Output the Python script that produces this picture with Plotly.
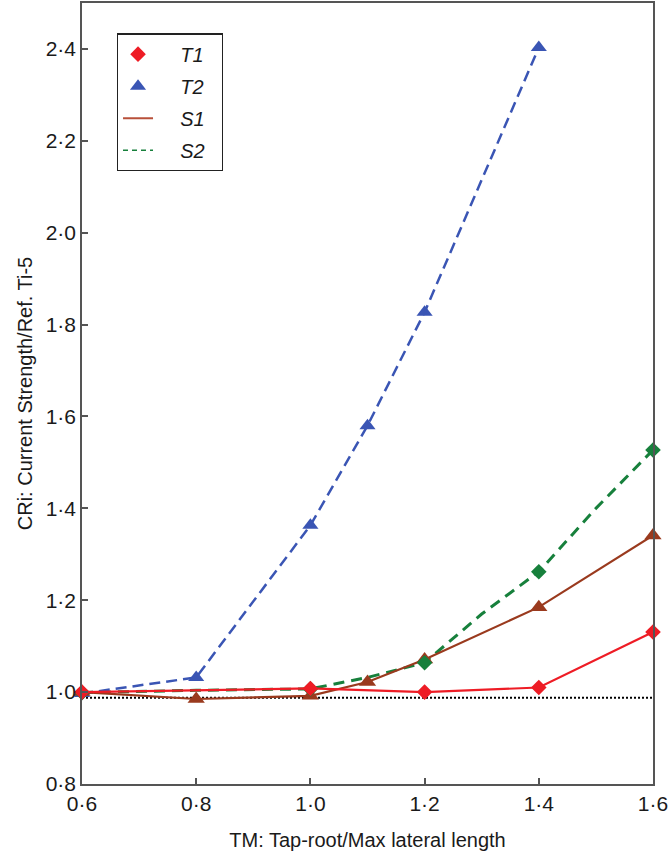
import plotly.graph_objects as go

# ---- data ----
red_x = [0.6, 1.0, 1.2, 1.4, 1.6]
red_y = [1.0, 1.008, 1.0, 1.01, 1.131]

blue_x = [0.6, 0.8, 1.0, 1.1, 1.2, 1.4]
blue_y = [0.997, 1.032, 1.363, 1.58, 1.827, 2.403]

brown_x = [0.6, 0.8, 1.0, 1.1, 1.2, 1.4, 1.6]
brown_y = [1.0, 0.985, 0.992, 1.022, 1.071, 1.185, 1.341]

green_x = [0.6, 0.8, 1.0, 1.1, 1.2, 1.3, 1.4, 1.5, 1.6]
green_y = [0.999, 1.004, 1.007, 1.032, 1.064, 1.17, 1.262, 1.40, 1.527]
green_marked = [True, False, True, False, True, False, True, False, True]

baseline_y = 0.988

x_ticks = [0.6, 0.8, 1.0, 1.2, 1.4, 1.6]
x_ticklabels = ["0·6", "0·8", "1·0", "1·2", "1·4", "1·6"]
y_ticks = [0.8, 1.0, 1.2, 1.4, 1.6, 1.8, 2.0, 2.2, 2.4]
y_ticklabels = ["0·8", "1·0", "1·2", "1·4", "1·6", "1·8", "2·0", "2·2", "2·4"]

legend_names = ["T1", "T2", "S1", "S2"]

RED = "#ee1c25"
BLUE = "#3a55b4"
BROWN = "#9a3a1e"
GREEN = "#17803c"
FONT = "Liberation Sans, Arial, sans-serif"

fig = go.Figure()

# dotted reference line
fig.add_trace(go.Scatter(
    x=[x_ticks[0], x_ticks[-1]], y=[baseline_y, baseline_y], mode="lines",
    line=dict(color="black", width=2, dash="2px,2px"), showlegend=False,
    hoverinfo="skip"))

# green dashed line
fig.add_trace(go.Scatter(
    x=green_x, y=green_y, mode="lines",
    line=dict(color=GREEN, width=3, dash="11px,7px"),
    showlegend=False, cliponaxis=False))

# blue dashed with triangles
fig.add_trace(go.Scatter(
    x=blue_x, y=blue_y, mode="lines+markers",
    line=dict(color=BLUE, width=2.5, dash="11px,6px"),
    marker=dict(symbol="triangle-up", color=BLUE, size=14),
    showlegend=False, cliponaxis=False))

# brown solid with triangles
fig.add_trace(go.Scatter(
    x=brown_x, y=brown_y, mode="lines+markers",
    line=dict(color=BROWN, width=2.2),
    marker=dict(symbol="triangle-up", color=BROWN, size=15),
    showlegend=False, cliponaxis=False))

# green diamonds
fig.add_trace(go.Scatter(
    x=[x for x, m in zip(green_x, green_marked) if m],
    y=[y for y, m in zip(green_y, green_marked) if m],
    mode="markers",
    marker=dict(symbol="diamond", color=GREEN, size=12),
    showlegend=False, cliponaxis=False))

# red solid with diamonds
fig.add_trace(go.Scatter(
    x=red_x, y=red_y, mode="lines+markers",
    line=dict(color=RED, width=2.2),
    marker=dict(symbol="diamond", color=RED, size=12),
    showlegend=False, cliponaxis=False))

# legend-only entries
pad = "\u00a0\u00a0\u00a0\u00a0"
tail = "\u00a0\u00a0"
fig.add_trace(go.Scatter(x=[None], y=[None], mode="markers", name=pad + legend_names[0] + tail,
                         marker=dict(symbol="diamond", color=RED, size=12), legendgroup="a"))
fig.add_trace(go.Scatter(x=[None], y=[None], mode="markers", name=pad + legend_names[1] + tail,
                         marker=dict(symbol="triangle-up", color=BLUE, size=14), legendgroup="b"))
fig.add_trace(go.Scatter(x=[None], y=[None], mode="lines", name=pad + legend_names[2] + tail,
                         line=dict(color="#b8503a", width=2), legendgroup="c"))
fig.add_trace(go.Scatter(x=[None], y=[None], mode="lines", name=pad + legend_names[3] + tail,
                         line=dict(color=GREEN, width=1.5, dash="5px,4px"), legendgroup="d"))

axis_common = dict(
    showgrid=False, zeroline=False, showline=True, mirror=True,
    linecolor="#555555", linewidth=1.5, ticks="inside", ticklen=6,
    tickcolor="#555555", tickwidth=1.5,
    tickfont=dict(family=FONT, size=21, color="#1a1a1a"),
)

fig.update_layout(
    width=670, height=853,
    margin=dict(l=82, r=17, t=1, b=69),
    paper_bgcolor="white", plot_bgcolor="white",
    font=dict(family=FONT, color="#1a1a1a"),
    xaxis=dict(range=[0.6, 1.6], tickvals=x_ticks, ticktext=x_ticklabels,
               title=dict(text="TM: Tap-root/Max lateral length",
                          font=dict(family=FONT, size=20, color="#1a1a1a"), standoff=19),
               **axis_common),
    yaxis=dict(range=[0.8, 2.5], tickvals=y_ticks, ticktext=y_ticklabels,
               title=dict(text="CRi: Current Strength/Ref. Ti-5",
                          font=dict(family=FONT, size=20, color="#1a1a1a"), standoff=8),
               **axis_common),
    legend=dict(x=0.061, y=0.961, xanchor="left", yanchor="top",
                bordercolor="#222222", borderwidth=1.2, bgcolor="white",
                font=dict(family=FONT, size=20, color="#1a1a1a", style="italic"),
                traceorder="grouped", tracegroupgap=3),
    showlegend=True,
)

fig.write_html("out.html", config={"displayModeBar": False},
               post_script="document.body.style.margin='0';")
